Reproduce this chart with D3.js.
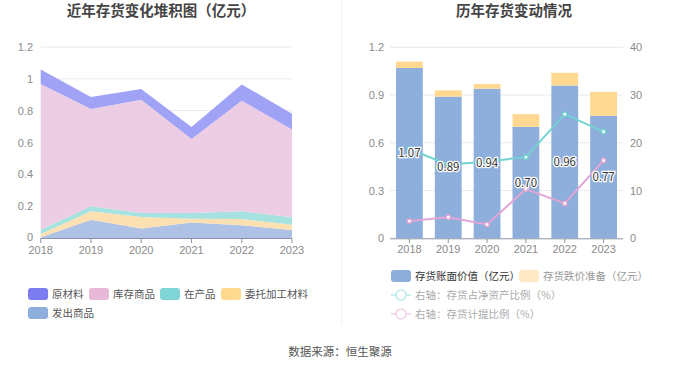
<!DOCTYPE html>
<html><head><meta charset="utf-8">
<script src="https://cdn.jsdelivr.net/npm/d3@7/dist/d3.min.js"></script>
<style>
body{margin:0;background:#fff;}
svg{display:block;font-family:"Noto Sans CJK SC","Noto Sans",sans-serif;}
.num{font-family:"Liberation Sans",Arial,sans-serif;}
</style></head>
<body><svg id="c" width="680" height="367"></svg>
<script>
const years = ["2018","2019","2020","2021","2022","2023"];
// left stacked area (亿元)
const faChu   = [0.005,0.115,0.059,0.098,0.080,0.050]; // 发出商品
const weiTuo  = [0.020,0.053,0.073,0.023,0.039,0.034]; // 委托加工材料
const zaiChan = [0.027,0.031,0.025,0.036,0.049,0.046]; // 在产品
const kuCun   = [0.915,0.611,0.712,0.465,0.695,0.551]; // 库存商品
const yuanCai = [0.091,0.076,0.067,0.075,0.102,0.100]; // 原材料
const leftTicks = [0,0.2,0.4,0.6,0.8,1,1.2];
// right chart
const bookValue = [1.07,0.89,0.94,0.70,0.96,0.77];
const reserve   = [0.04,0.04,0.03,0.08,0.08,0.15];
const ratioNet  = [18.7,15.4,16.1,17.0,26.0,22.3];
const ratioProv = [3.6,4.4,2.9,10.3,7.3,16.3];
const rightTicksL = [0,0.3,0.6,0.9,1.2];
const rightTicksR = [0,10,20,30,40];

const svg = d3.select("#c");
const gridC = "#E6E9F0", axisC = "#8A94A6", labC = "#8a8a8a";

// titles
svg.append("text").attr("x",161).attr("y",16).attr("text-anchor","middle")
  .attr("font-size",14.5).attr("font-weight","bold").attr("fill","#444").text("近年存货变化堆积图（亿元）");
svg.append("text").attr("x",514).attr("y",16).attr("text-anchor","middle")
  .attr("font-size",14.5).attr("font-weight","bold").attr("fill","#444").text("历年存货变动情况");
svg.append("line").attr("x1",341.5).attr("x2",341.5).attr("y1",0).attr("y2",325).attr("stroke","#F2F2F2");
svg.append("text").attr("x",340).attr("y",356).attr("text-anchor","middle")
  .attr("font-size",11.5).attr("fill","#555").text("数据来源：恒生聚源");

// ---------- left chart ----------
const xL = d3.scalePoint().domain(years).range([40.7,292]);
const yL = d3.scaleLinear().domain([0,1.2]).range([238,47]);
const gL = svg.append("g");
gL.selectAll(".gl").data(leftTicks.slice(1)).join("line")
  .attr("x1",40.7).attr("x2",292).attr("y1",d=>yL(d)).attr("y2",d=>yL(d)).attr("stroke",gridC);
gL.selectAll(".yl").data(leftTicks).join("text").attr("class","num")
  .attr("x",33).attr("y",d=>yL(d)+(d===0?3:4)).attr("text-anchor","end").attr("font-size",11).attr("fill",labC)
  .text(d=>d3.format("~g")(d));
const seriesL = [
  {name:"发出商品", vals:faChu, fill:"#AEC2E5", legend:"#8EAEDB"},
  {name:"委托加工材料", vals:weiTuo, fill:"#FCE0B2", legend:"#FFD98E"},
  {name:"在产品", vals:zaiChan, fill:"#A6E2E0", legend:"#80D5D6"},
  {name:"库存商品", vals:kuCun, fill:"#EDCDE4", legend:"#E8B8D8"},
  {name:"原材料", vals:yuanCai, fill:"#A0A2F6", legend:"#7B7CF0"}
];
const tbl = years.map((y,i)=>{const o={year:y}; seriesL.forEach(s=>o[s.name]=s.vals[i]); return o;});
const stack = d3.stack().keys(seriesL.map(s=>s.name))(tbl);
const area = d3.area().x(d=>xL(d.data.year)).y0(d=>yL(d[0])).y1(d=>yL(d[1]));
gL.selectAll(".ar").data(stack).join("path").attr("d",area).attr("fill",(d,i)=>seriesL[i].fill);
gL.append("line").attr("x1",40.7).attr("x2",292).attr("y1",238.5).attr("y2",238.5).attr("stroke",axisC);
gL.selectAll(".tk").data(years).join("line").attr("x1",d=>xL(d)).attr("x2",d=>xL(d))
  .attr("y1",238.5).attr("y2",243).attr("stroke",axisC);
gL.selectAll(".xl").data(years).join("text").attr("class","num").attr("x",d=>xL(d)).attr("y",254)
  .attr("text-anchor","middle").attr("font-size",11).attr("fill",labC).text(d=>d);
// left legend
const legOrder = ["原材料","库存商品","在产品","委托加工材料","发出商品"];
const legPos = [[28,294],[89,294],[160,294],[221,294],[28,313]];
legOrder.forEach((n,i)=>{
  const s = seriesL.find(q=>q.name===n);
  const [x,y]=legPos[i];
  svg.append("rect").attr("x",x).attr("y",y-6).attr("width",20).attr("height",12).attr("rx",3).attr("fill",s.legend);
  svg.append("text").attr("x",x+24).attr("y",y+4).attr("font-size",10.5).attr("fill","#555").text(n);
});

// ---------- right chart ----------
const xR = d3.scaleBand().domain(years).range([390,623]).paddingInner(0.31).paddingOuter(0.155);
const yR = d3.scaleLinear().domain([0,1.2]).range([238.3,47.3]);
const yR2 = d3.scaleLinear().domain([0,40]).range([238.3,47.3]);
const gR = svg.append("g");
gR.selectAll(".gl").data(rightTicksL.slice(1)).join("line")
  .attr("x1",390).attr("x2",623).attr("y1",d=>yR(d)).attr("y2",d=>yR(d)).attr("stroke",gridC);
gR.selectAll(".yl").data(rightTicksL).join("text").attr("class","num")
  .attr("x",384).attr("y",d=>yR(d)+4).attr("text-anchor","end").attr("font-size",11).attr("fill",labC)
  .text(d=>d3.format("~g")(d));
gR.selectAll(".yr").data(rightTicksR).join("text").attr("class","num")
  .attr("x",630).attr("y",d=>yR2(d)+4).attr("text-anchor","start").attr("font-size",11).attr("fill",labC)
  .text(d=>d);
gR.selectAll(".bb").data(years).join("rect")
  .attr("x",d=>xR(d)).attr("width",xR.bandwidth())
  .attr("y",(d,i)=>yR(bookValue[i])).attr("height",(d,i)=>yR(0)-yR(bookValue[i])).attr("fill","#8EAEDB");
gR.selectAll(".br").data(years).join("rect")
  .attr("x",d=>xR(d)).attr("width",xR.bandwidth())
  .attr("y",(d,i)=>yR(bookValue[i]+reserve[i])).attr("height",(d,i)=>yR(bookValue[i])-yR(bookValue[i]+reserve[i])).attr("fill","#FFD892");
gR.append("line").attr("x1",390).attr("x2",623).attr("y1",238.8).attr("y2",238.8).attr("stroke",axisC);
gR.selectAll(".tk").data(years).join("line").attr("x1",d=>xR(d)+xR.bandwidth()/2).attr("x2",d=>xR(d)+xR.bandwidth()/2)
  .attr("y1",238.8).attr("y2",243).attr("stroke",axisC);
gR.selectAll(".xl").data(years).join("text").attr("class","num").attr("x",d=>xR(d)+xR.bandwidth()/2).attr("y",253)
  .attr("text-anchor","middle").attr("font-size",11).attr("fill",labC).text(d=>d);
const cx = d=>xR(d)+xR.bandwidth()/2;
const lines = [{vals:ratioNet,c:"#72D3D3"},{vals:ratioProv,c:"#E3A5D5"}];
lines.forEach(L=>{
  gR.append("path").datum(years).attr("fill","none").attr("stroke",L.c).attr("stroke-width",2)
    .attr("d",d3.line().x(d=>cx(d)).y((d,i)=>yR2(L.vals[i])));
  gR.selectAll(null).data(years).join("circle").attr("cx",d=>cx(d)).attr("cy",(d,i)=>yR2(L.vals[i]))
    .attr("r",2.2).attr("fill","#fff").attr("stroke",L.c).attr("stroke-width",1.5);
});
gR.selectAll(".lb").data(years).join("text").attr("x",d=>cx(d)).attr("y",(d,i)=>yR(bookValue[i]/2)+4)
  .attr("text-anchor","middle").attr("font-size",11.5).attr("fill","#333")
  .attr("stroke","#fff").attr("stroke-width",2.5).attr("paint-order","stroke")
  .text((d,i)=>bookValue[i].toFixed(2));
// right legend
svg.append("rect").attr("x",391).attr("y",270).attr("width",20).attr("height",12).attr("rx",3).attr("fill","#8EAEDB");
svg.append("text").attr("x",415).attr("y",279.5).attr("font-size",10.5).attr("fill","#333").text("存货账面价值（亿元）");
svg.append("rect").attr("x",519).attr("y",270).attr("width",20).attr("height",12).attr("rx",3).attr("fill","#FFE9C4");
svg.append("text").attr("x",543).attr("y",279.5).attr("font-size",10.5).attr("fill","#999").text("存货跌价准备（亿元）");
[["右轴：存货占净资产比例（%）","#B8EAEA",295],["右轴：存货计提比例（%）","#F2CFE8",314]].forEach(([t,c,y])=>{
  svg.append("line").attr("x1",391).attr("x2",411).attr("y1",y).attr("y2",y).attr("stroke",c).attr("stroke-width",1.5);
  svg.append("circle").attr("cx",401).attr("cy",y).attr("r",5).attr("fill","#fff").attr("stroke",c).attr("stroke-width",1.5);
  svg.append("text").attr("x",415).attr("y",y+4).attr("font-size",10.5).attr("fill","#aaa").text(t);
});
</script></body></html>
